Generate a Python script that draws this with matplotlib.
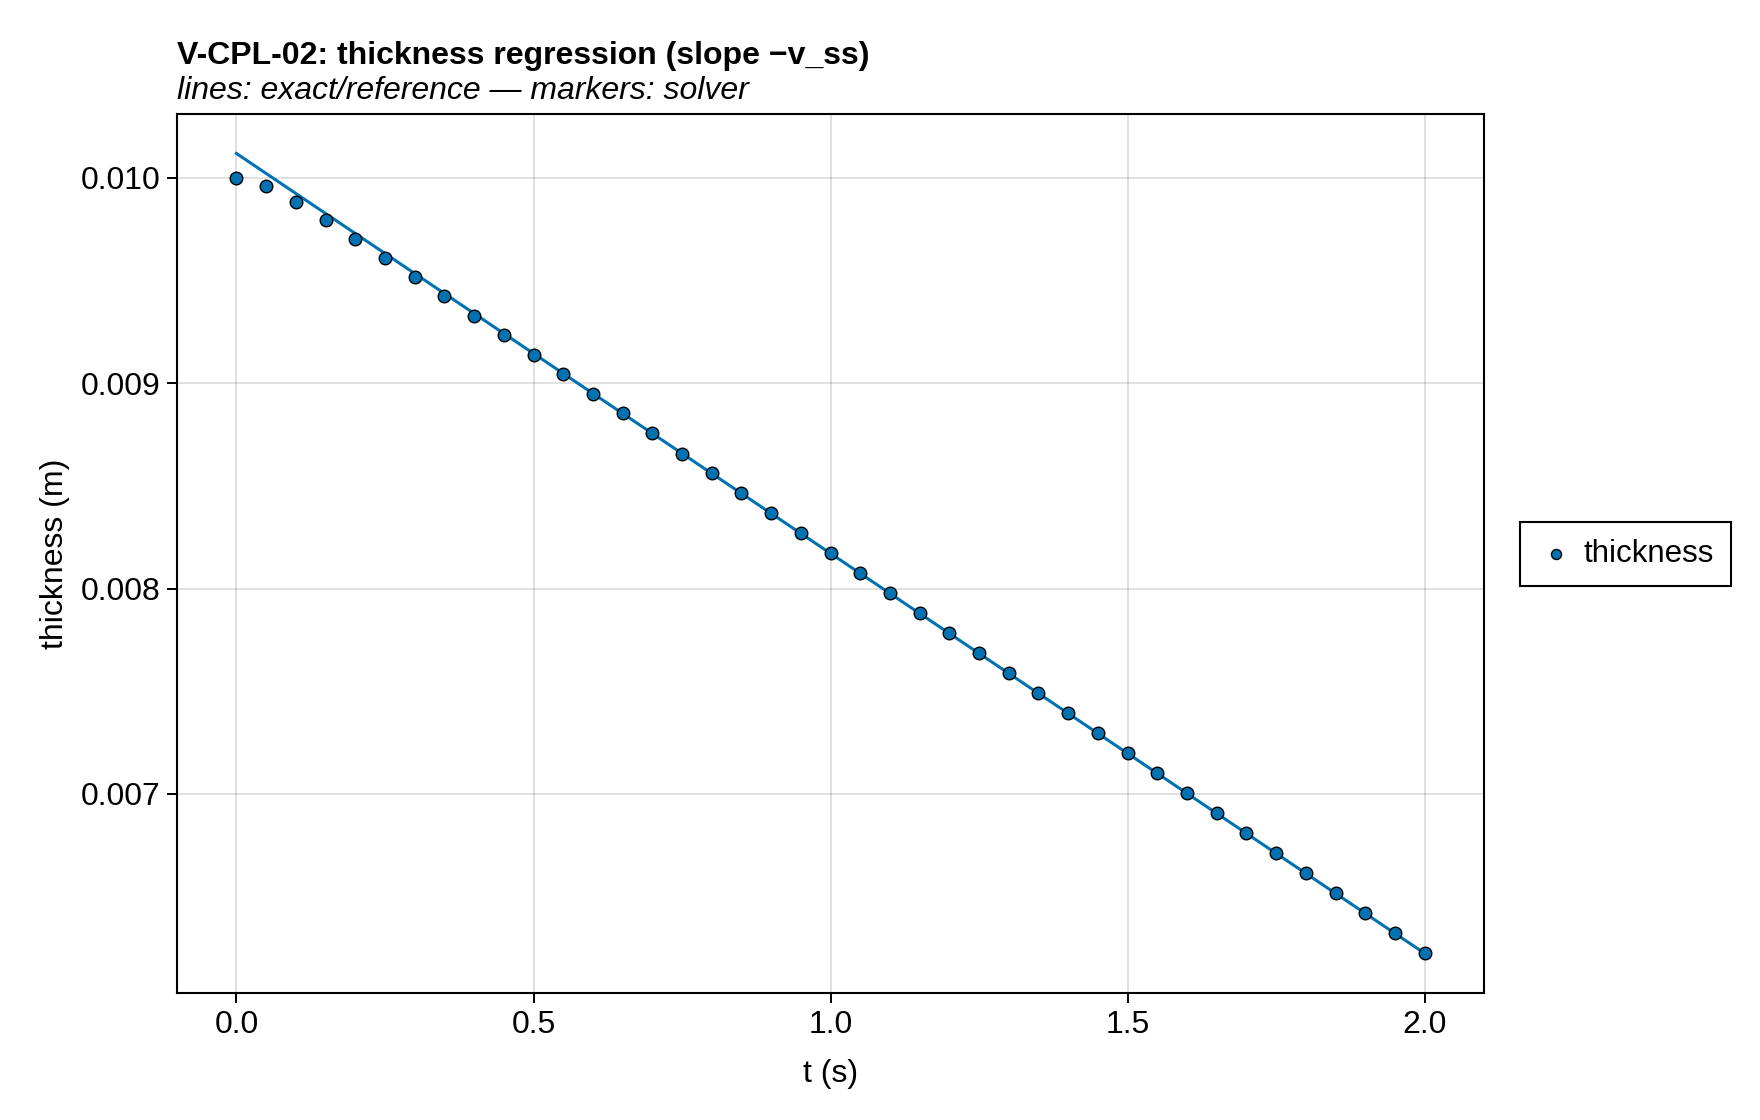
import matplotlib.pyplot as plt

plt.rcParams['font.family'] = ['Liberation Sans', 'DejaVu Sans']

# solver output (markers)
t = [0.00, 0.05, 0.10, 0.15, 0.20, 0.25, 0.30, 0.35, 0.40, 0.45,
     0.50, 0.55, 0.60, 0.65, 0.70, 0.75, 0.80, 0.85, 0.90, 0.95,
     1.00, 1.05, 1.10, 1.15, 1.20, 1.25, 1.30, 1.35, 1.40, 1.45,
     1.50, 1.55, 1.60, 1.65, 1.70, 1.75, 1.80, 1.85, 1.90, 1.95, 2.00]
thickness = [0.010000, 0.009961, 0.009883, 0.009795, 0.009704, 0.009612,
             0.009519, 0.009423, 0.009328, 0.009233, 0.009138, 0.009043,
             0.008950, 0.008853, 0.008756, 0.008658, 0.008561, 0.008465,
             0.008366, 0.008269, 0.008172, 0.008074, 0.007977, 0.007879,
             0.007782, 0.007685, 0.007587, 0.007490, 0.007392, 0.007295,
             0.007198, 0.007100, 0.007003, 0.006906, 0.006808, 0.006711,
             0.006614, 0.006516, 0.006419, 0.006321, 0.006224]

# exact / reference line
t_ref = [0.0, 2.0]
thickness_ref = [0.010119, 0.006224]

xticks = [0.0, 0.5, 1.0, 1.5, 2.0]
yticks = [0.007, 0.008, 0.009, 0.010]

blue = '#0072B2'

fig = plt.figure(figsize=(17.6, 11.2), dpi=100)
ax = fig.add_axes([0.1006, 0.1134, 0.7426, 0.7844])

ax.plot(t_ref, thickness_ref, color=blue, linewidth=2.2, zorder=2)
ax.scatter(t, thickness, s=82, color=blue, edgecolor='black', linewidth=1.0,
           zorder=3, label='thickness')

ax.set_xlim(-0.1, 2.1)
ax.set_ylim(0.006031, 0.010309)
ax.set_xticks(xticks)
ax.set_xticklabels([f'{v:.1f}' for v in xticks])
ax.set_yticks(yticks)
ax.set_yticklabels([f'{v:.3f}' for v in yticks])

# light grid + black frame
ax.grid(True, color='black', alpha=0.12, linewidth=1.4)
ax.set_axisbelow(True)
for s in ax.spines.values():
    s.set_linewidth(1.5)
ax.tick_params(labelsize=23, width=1.4, length=7, pad=5)

ax.set_xlabel('t (s)', fontsize=23, labelpad=14)
ax.set_ylabel('thickness (m)', fontsize=23, labelpad=8)

# title and subtitle, left aligned with the axes
ax.text(0, 1.058, 'V-CPL-02: thickness regression (slope \u2212v_ss)',
        transform=ax.transAxes, fontsize=23, fontweight='bold',
        ha='left', va='baseline')
ax.text(0, 1.018, 'lines: exact/reference \u2014 markers: solver',
        transform=ax.transAxes, fontsize=23, style='italic',
        ha='left', va='baseline')

leg = ax.legend(loc='center left', bbox_to_anchor=(1.0274, 0.5), fontsize=22.5,
                fancybox=False, edgecolor='black', framealpha=1,
                borderaxespad=0, handlelength=1.2, handletextpad=0.3,
                borderpad=0.55, markerscale=0.8)
leg.get_frame().set_linewidth(1.5)

fig.savefig('out.png', dpi=100)
